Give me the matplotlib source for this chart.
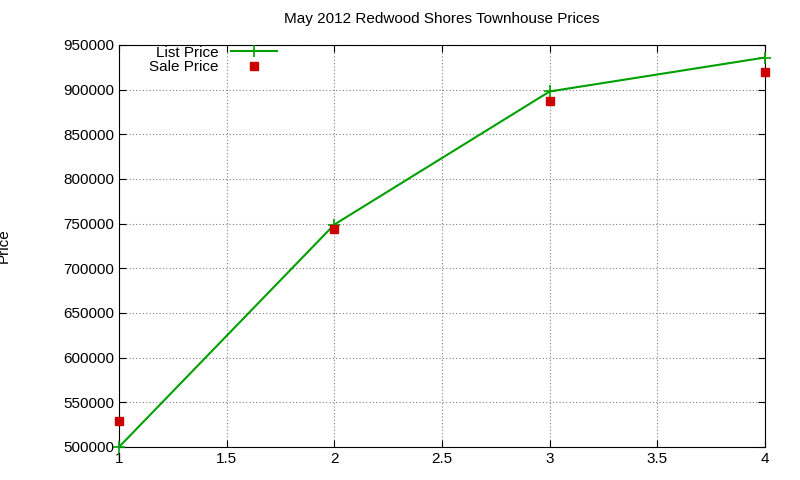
import matplotlib
matplotlib.use("Agg")
import matplotlib.pyplot as plt

plt.rcParams["font.family"] = ["Liberation Sans", "DejaVu Sans"]

bedrooms = [1, 2, 3, 4]
list_price = [500000, 749000, 898000, 936000]
sale_price = [529000, 744000, 887000, 920000]

fig = plt.figure(figsize=(8, 4.8), dpi=100)
ax = fig.add_axes([0.14875, 0.06875, 0.8075, 0.8375])

ax.plot(bedrooms, list_price, color="#00a000", linewidth=1.5, marker="+",
        markersize=8, markeredgewidth=1.2, label="List Price", clip_on=False, zorder=3)
ax.plot(bedrooms, sale_price, linestyle="none", color="#cc0000", marker="s",
        markersize=6, label="Sale Price", clip_on=False, zorder=4)

ax.set_xlim(1, 4)
ax.set_ylim(500000, 950000)
ax.set_xticks([1, 1.5, 2, 2.5, 3, 3.5, 4])
ax.set_xticklabels(["1", "1.5", "2", "2.5", "3", "3.5", "4"])
ax.set_yticks(range(500000, 950001, 50000))
ax.tick_params(direction="in", top=True, right=True, labelsize=11, length=5)
ax.grid(True, color="#808080", linestyle=(0, (1, 2)), linewidth=0.8)
ax.set_ylabel("Price", fontsize=11, labelpad=38)
ax.set_title("May 2012 Redwood Shores Townhouse Prices", fontsize=11, pad=16)

ax.legend(loc="upper left", bbox_to_anchor=(0.03, 1.025), frameon=False,
          markerfirst=False, fontsize=11, handlelength=3,
          borderpad=0.2, labelspacing=0.05)

fig.savefig("out.png", dpi=100)
